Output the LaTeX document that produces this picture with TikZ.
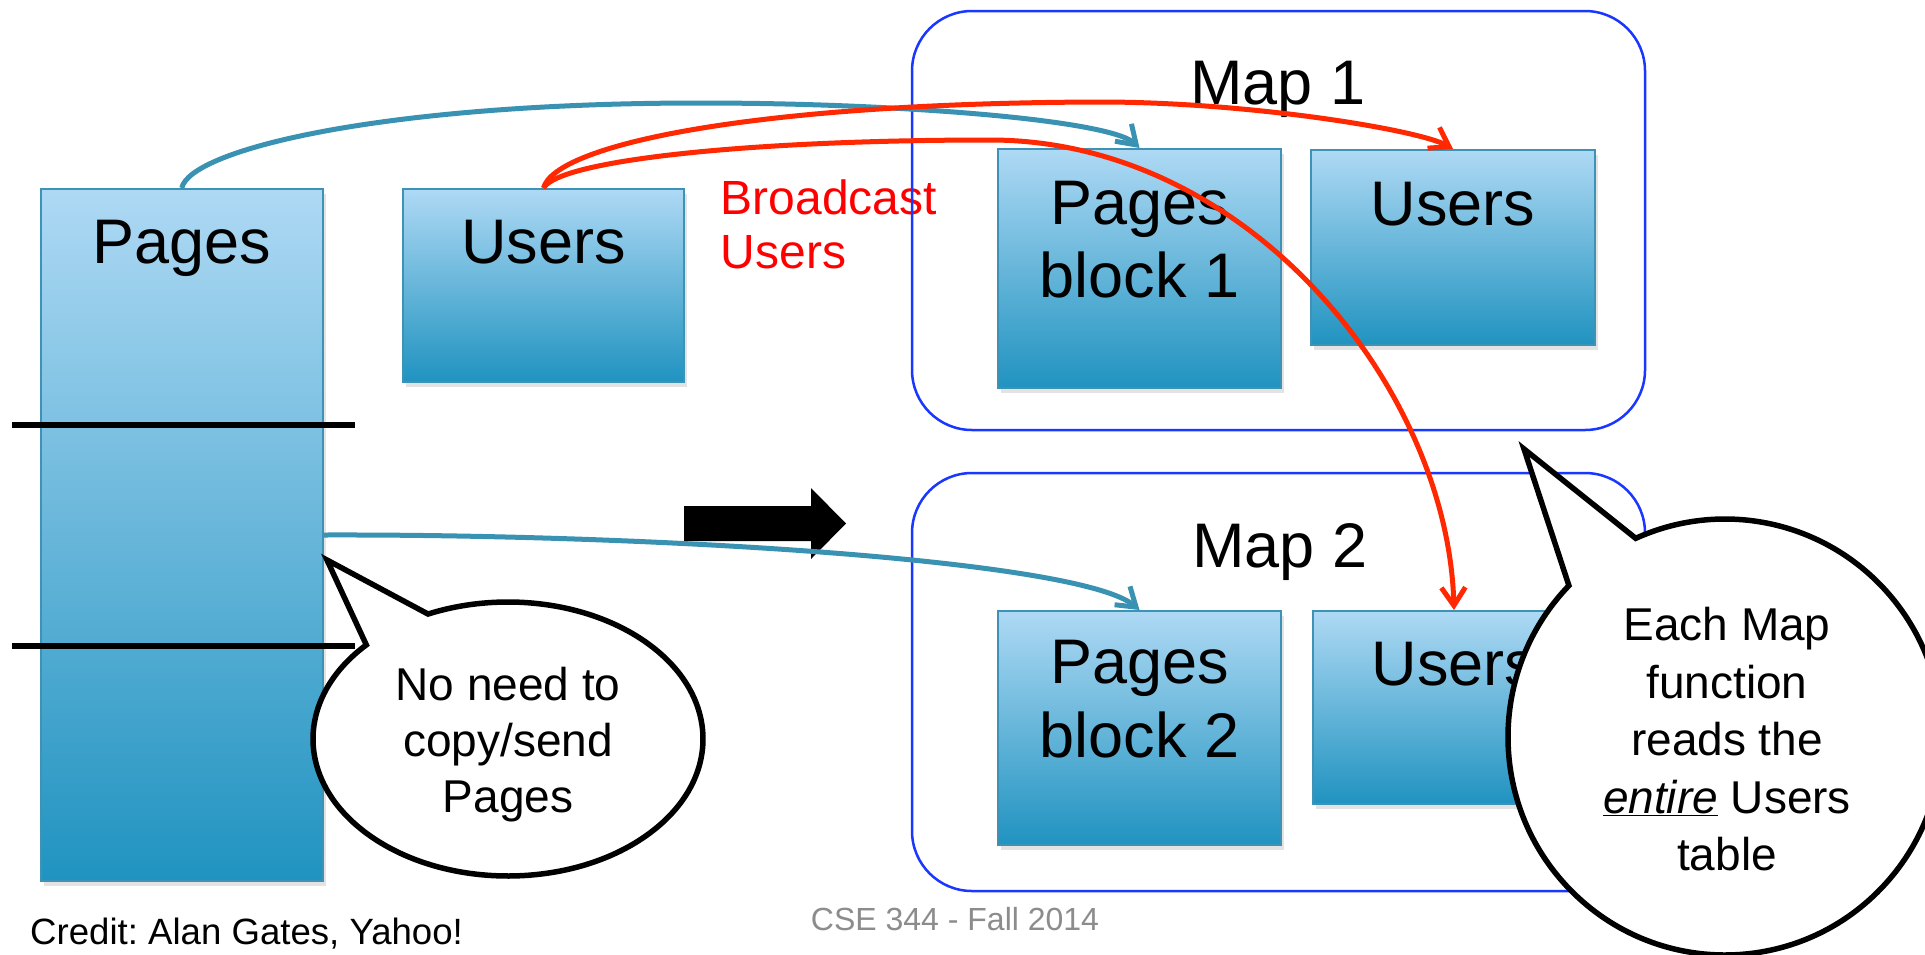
\documentclass[tikz,border=0pt]{standalone}
\usepackage{fontspec}
\setmainfont{Liberation Sans}
\frenchspacing
\usetikzlibrary{arrows.meta,shadows,calc}
\definecolor{tbltop}{RGB}{174,217,244}
\definecolor{tblbot}{RGB}{32,147,192}
\definecolor{tbledge}{RGB}{62,146,182}
\definecolor{tealc}{RGB}{58,146,178}
\definecolor{redc}{RGB}{255,40,0}
\definecolor{mapblue}{RGB}{25,55,255}
\definecolor{graytxt}{RGB}{140,140,140}
\begin{document}
\begin{tikzpicture}[x=1pt,y=1pt,
  tbl/.style={draw=tbledge, line width=2pt, top color=tbltop, bottom color=tblbot, inner sep=0pt,
    drop shadow={shadow xshift=3pt, shadow yshift=-5pt, opacity=0.22}},
  lbl/.style={font=\fontsize{63}{73.5}\selectfont, inner sep=0pt, align=center},
  mapbox/.style={draw=mapblue, line width=2.5pt, rounded corners=60pt, inner sep=0pt},
  tconn/.style={draw=tealc, line width=5pt, -{Straight Barb[length=18pt,width=24pt]}},
  rconn/.style={draw=redc, line width=5pt, -{Straight Barb[length=18pt,width=24pt]}},
  callout/.style={draw=black, line width=5.5pt, fill=white, line join=miter},
  cotext/.style={align=center, inner sep=0pt},
  sepline/.style={draw=black, line width=5.5pt},
]
\clip (0,0) rectangle (1925,-954);
\fill[white] (0,0) rectangle (1925,-954);

% red caption
\node[anchor=north west, inner sep=0pt, align=left, text=red, font=\fontsize{48}{54}\selectfont] (bcast) at (720.5,-179.6) {Broadcast\\Users};

% map containers
\node[mapbox, minimum width=733pt, minimum height=419pt] (map1) at (1278.5,-220.5) {};
\node[mapbox, minimum width=733pt, minimum height=418pt] (map2) at (1278.5,-682) {};
\node[lbl, anchor=base] (map1t) at (1278,-104) {Map 1};
\node[lbl, anchor=base] (map2t) at (1280,-567.5) {Map 2};

% tables
\node[tbl, minimum width=282.5pt, minimum height=692pt] (pages) at (181.75,-535) {};
\node[tbl, minimum width=281pt, minimum height=193pt] (users0) at (543.5,-285.5) {};
\node[tbl, minimum width=283pt, minimum height=239pt] (pb1) at (1139.5,-268.5) {};
\node[tbl, minimum width=284pt, minimum height=195pt] (u1) at (1453,-247.5) {};
\node[tbl, minimum width=283pt, minimum height=234pt] (pb2) at (1139.5,-728) {};
\node[tbl, minimum width=282pt, minimum height=193pt] (u2) at (1454,-707.5) {};

\node[lbl, anchor=base] (pagesT) at (181.75,-263) {Pages};
\node[lbl, anchor=base] (users0T) at (543.5,-263) {Users};
\node[lbl] (pb1T) at (1139.5,-239.75) {Pages\\block 1};
\node[lbl, anchor=base] (u1T) at (1453,-225.7) {Users};
\node[lbl] (pb2T) at (1139.5,-699) {Pages\\block 2};
\node[lbl, anchor=base] (u2T) at (1454,-685) {Users};

% block separators
\draw[sepline] (12,-425) -- (355,-425);
\draw[sepline] (12,-646) -- (355,-646);

% block arrow
\fill[black] (684,-506) -- (811,-506) -- (811,-488) -- (846,-523.5) -- (811,-559) -- (811,-541) -- (684,-541) -- cycle;

% connectors
\coordinate (tpk) at (700,-103);
\coordinate (rpk) at (1100,-102);
\coordinate (rpk2) at (990,-140);
\draw[tconn] (pages.north) .. controls (190,-150) and (380,-103) .. (tpk)
  .. controls (900,-103) and (1110,-120) .. (pb1.north);
\draw[rconn] (users0.north) .. controls (555,-145) and (750,-103) .. (rpk)
  .. controls (1250,-102) and (1420,-130) .. (u1.north);
\draw[rconn] (users0.north) .. controls (560,-160) and (750,-140) .. (rpk2)
  .. controls (1250,-140) and (1448,-390) .. (u2.north);
\draw[tconn] (pages.east) .. controls (650,-534) and (1080,-560) .. (pb2.north);

% callout 1
\coordinate (c1) at (508,-739);
\coordinate (c1tip) at (327,-560);
\draw[callout] ($(c1)+(114.2:195 and 137)$) -- (c1tip) -- ($(c1)+(136.6:195 and 137)$)
  arc[start angle=136.6, end angle=474.2, x radius=195pt, y radius=137pt] -- cycle;
\node[cotext, font=\fontsize{46}{56}\selectfont] (c1text) at (508,-745) {No need to\\copy/send\\Pages};

% callout 2
\coordinate (c2) at (1725,-737);
\coordinate (c2tip) at (1524,-449);
\draw[callout] ($(c2)+(114.3:217 and 218)$) -- (c2tip) -- ($(c2)+(136:217 and 218)$)
  arc[start angle=136, end angle=474.3, x radius=217pt, y radius=218pt] -- cycle;
\node[cotext, font=\fontsize{46}{57.5}\selectfont] (c2text) at (1727,-739.25)
  {Each Map\\function\\reads the\\\underline{\textit{entire}} Users\\table};

% footers
\node[anchor=base west, inner sep=0pt, font=\fontsize{36.6}{44}\selectfont] (credit) at (30,-944) {Credit: Alan Gates, Yahoo!};
\node[anchor=base, inner sep=0pt, text=graytxt, font=\fontsize{32}{38}\selectfont] (cse) at (955,-930) {CSE 344 - Fall 2014};
\end{tikzpicture}
\end{document}
